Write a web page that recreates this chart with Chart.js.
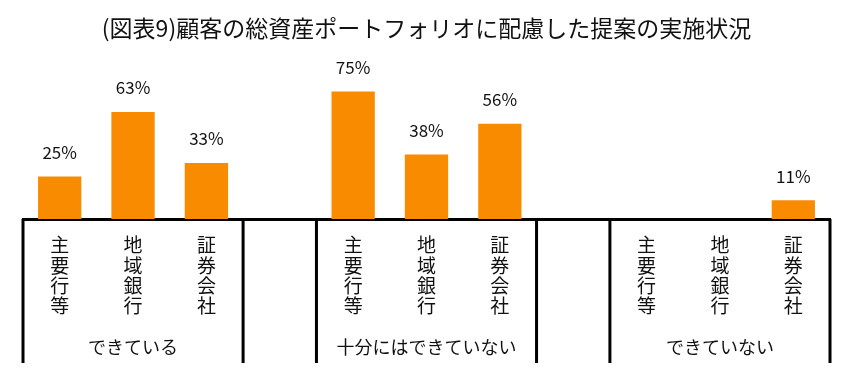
<!DOCTYPE html>
<html>
<head>
<meta charset="utf-8">
<script src="https://cdn.jsdelivr.net/npm/chart.js@4"></script>
<style>
  body { margin: 0; background: #fff; }
  #wrap { width: 852px; height: 375px; }
</style>
</head>
<body>
<div id="wrap"><canvas id="chart"></canvas></div>
<script>
const banks = ["主要行等", "地域銀行", "証券会社"];
const groups = ["できている", "十分にはできていない", "できていない"];
const doneValues = [25, 63, 33];
const partlyValues = [75, 38, 56];
const notDoneValues = [null, null, 11];
const chartTitle = "(図表9)顧客の総資産ポートフォリオに配慮した提案の実施状況";

const groupValues = [doneValues, partlyValues, notDoneValues];
const FONT = "'Noto Sans CJK JP', 'Noto Sans', sans-serif";

// one empty slot between each group
const slotLabels = [];
const slotValues = [];
groups.forEach((g, gi) => {
    if (gi > 0) {
        slotLabels.push("");
        slotValues.push(null);
    }
    banks.forEach((b, bi) => {
        slotLabels.push(b.split(""));
        slotValues.push(groupValues[gi][bi]);
    });
});

const tablePlugin = {
    id: "tablePlugin",
    afterDraw(chart) {
        const ctx = chart.ctx;
        const x = chart.scales.x;
        const area = chart.chartArea;
        const half = (area.right - area.left) / slotLabels.length / 2;
        const bottom = 363;

        ctx.save();
        // value labels
        ctx.fillStyle = "#111";
        ctx.font = "17px " + FONT;
        ctx.textAlign = "center";
        ctx.textBaseline = "middle";
        chart.getDatasetMeta(0).data.forEach((bar, i) => {
            const v = slotValues[i];
            if (v === null) return;
            ctx.fillText(v + "%", bar.x, bar.y - 24);
        });

        // group frames and labels
        ctx.strokeStyle = "#000";
        ctx.lineWidth = 3;
        ctx.font = "18px " + FONT;
        groups.forEach((g, gi) => {
            const first = gi * 4;
            const last = gi * 4 + 2;
            const left = x.getPixelForValue(first) - half;
            const right = x.getPixelForValue(last) + half;
            ctx.beginPath();
            ctx.moveTo(left, area.bottom);
            ctx.lineTo(left, bottom);
            ctx.moveTo(right, area.bottom);
            ctx.lineTo(right, bottom);
            ctx.stroke();
            ctx.fillText(g, (left + right) / 2, 347);
        });
        ctx.restore();
    }
};

new Chart(document.getElementById("chart"), {
    type: "bar",
    data: {
        labels: slotLabels,
        datasets: [{
            data: slotValues,
            backgroundColor: "#F98B00",
            barPercentage: 1,
            categoryPercentage: 0.59
        }]
    },
    options: {
        responsive: true,
        maintainAspectRatio: false,
        animation: false,
        layout: { padding: { left: 23, right: 22, top: 0, bottom: 0 } },
        plugins: {
            legend: { display: false },
            tooltip: { enabled: false },
            title: {
                display: true,
                text: chartTitle,
                color: "#111",
                font: { family: FONT, size: 23, weight: "normal", lineHeight: 1.2 },
                padding: { top: 14, bottom: 7.4 }
            }
        },
        scales: {
            x: {
                grid: { display: false, drawTicks: false },
                border: { display: true, color: "#000", width: 3 },
                ticks: {
                    color: "#111",
                    font: { family: FONT, size: 19, lineHeight: 1.07 },
                    padding: 16,
                    maxRotation: 0,
                    autoSkip: false
                },
                afterFit(scale) { scale.height = 156; }
            },
            y: {
                display: false,
                min: 0,
                max: 100
            }
        }
    },
    plugins: [tablePlugin]
});
</script>
</body>
</html>
